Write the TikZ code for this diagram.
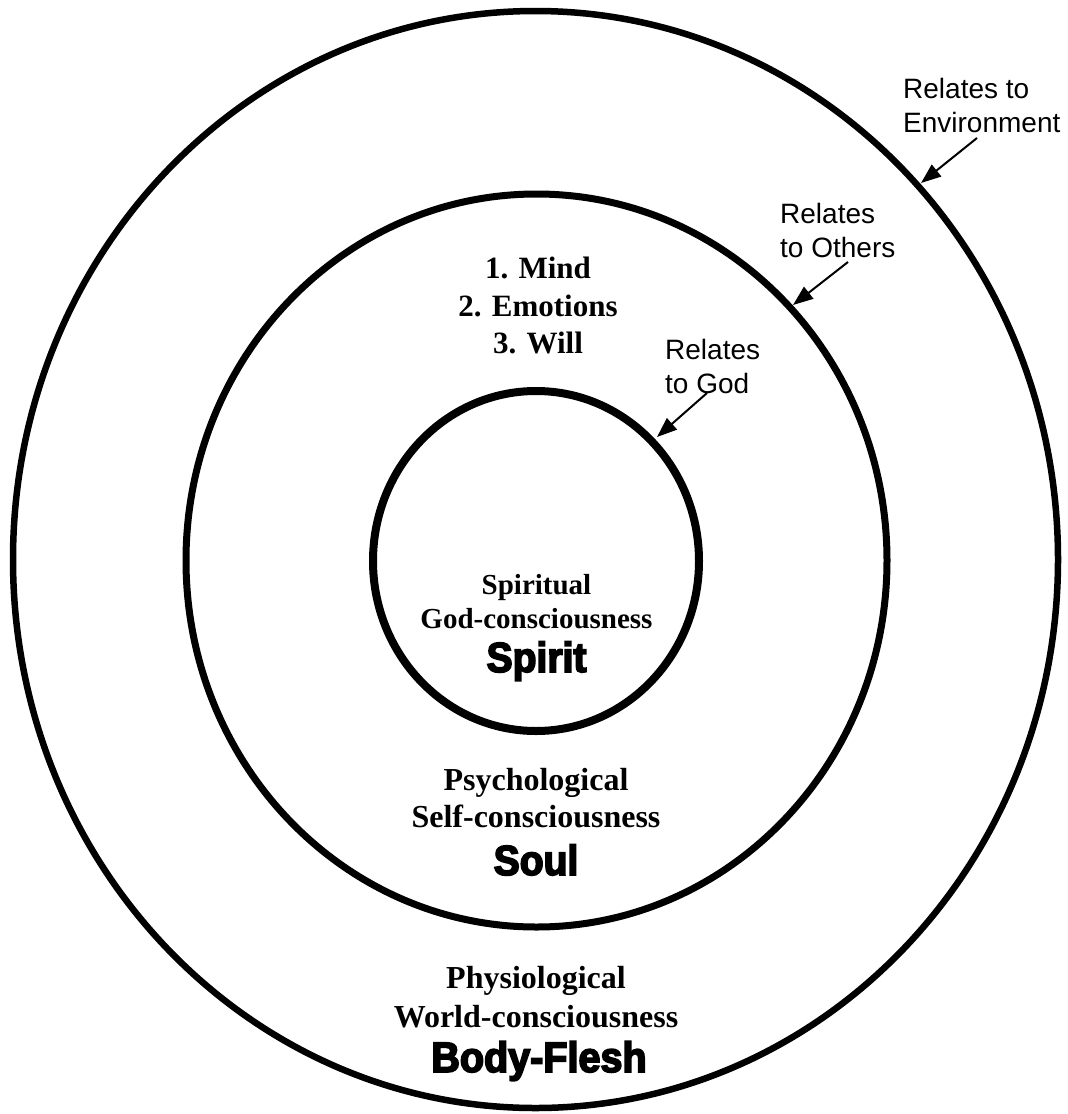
\documentclass[tikz,border=0pt]{standalone}
\usepackage{fontspec}
\setmainfont{Liberation Serif}
\newfontfamily\labelfont{Liberation Sans}
\newfontfamily\heavyfont[FakeBold=4,FakeStretch=0.93]{Liberation Sans Bold}
\usetikzlibrary{arrows.meta}
\begin{document}
\begin{tikzpicture}[x=1pt,y=-1pt,
  bt/.style={font=\fontsize{#1}{#1}\selectfont\bfseries, inner sep=0pt, anchor=base},
  hv/.style={font=\heavyfont\fontsize{#1}{#1}\selectfont, inner sep=0pt, anchor=base},
  lb/.style={font=\labelfont\fontsize{28}{28}\selectfont, inner sep=0pt, anchor=base west},
  arr/.style={-{Triangle[length=20pt,width=15pt]}, line width=2pt}]
\useasboundingbox (0,0) rectangle (1068,1114);
% rings
\draw[line width=6.5pt] (535.5,559.5) ellipse [x radius=522.5, y radius=548.5];
\draw[line width=7pt] (536.5,560.5) ellipse [x radius=350.5, y radius=366.5];
\draw[line width=8pt] (536,561) ellipse [x radius=163, y radius=170];
% soul faculties
\node[bt=31] (mind) at (538,278) {1. Mind};
\node[bt=31] (emo) at (538,316) {2. Emotions};
\node[bt=31] (will) at (538,353) {3. Will};
% spirit
\node[bt=29] (spl) at (536.5,594) {Spiritual};
\node[bt=29] (godc) at (536.5,628) {God-consciousness};
\node[hv=42] (spirit) at (536.5,672) {Spirit};
% soul
\node[bt=32] (psy) at (536,790) {Psychological};
\node[bt=32] (selfc) at (536,827) {Self-consciousness};
\node[hv=42] (soul) at (536,875) {Soul};
% body
\node[bt=32] (phy) at (536,988) {Physiological};
\node[bt=32] (worldc) at (536,1027) {World-consciousness};
\node[hv=42.5] (body) at (539,1072) {Body-Flesh};
% relation labels
\node[lb] (env1) at (903,98) {Relates to};
\node[lb] (env2) at (903,132) {Environment};
\node[lb] (oth1) at (780,223) {Relates};
\node[lb] (oth2) at (780,257) {to Others};
\node[lb] (god1) at (665,359) {Relates};
\node[lb] (god2) at (665,393) {to God};
% arrows
\coordinate (envA) at (977,138); \coordinate (envT) at (921,183);
\coordinate (othA) at (848,262); \coordinate (othT) at (793,305);
\coordinate (godA) at (707,393); \coordinate (godT) at (657,437);
\draw[arr] (envA) -- (envT);
\draw[arr] (othA) -- (othT);
\draw[arr] (godA) -- (godT);
\end{tikzpicture}
\end{document}
